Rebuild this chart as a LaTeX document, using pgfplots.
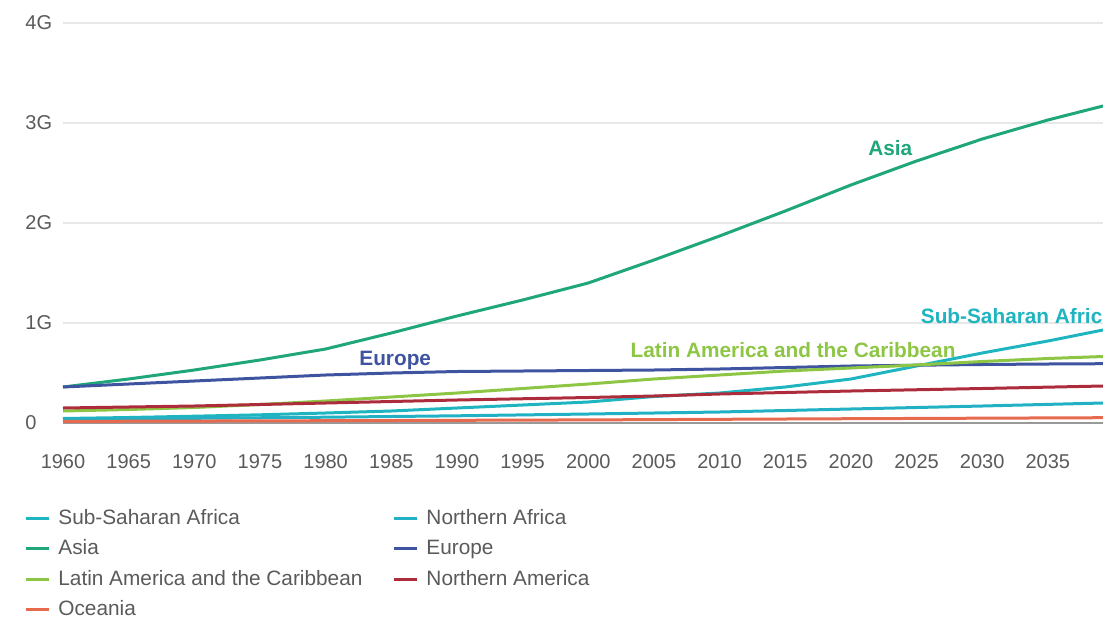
\documentclass[border=0pt]{standalone}
\usepackage{fontspec}
\setmainfont{Liberation Sans}
\usepackage{pgfplots}
\pgfplotsset{compat=1.18}
\definecolor{cAsia}{RGB}{31,166,122}
\definecolor{cEur}{RGB}{62,84,160}
\definecolor{cLat}{RGB}{141,198,68}
\definecolor{cNAm}{RGB}{172,44,60}
\definecolor{cSSA}{RGB}{30,180,192}
\definecolor{cNAf}{RGB}{34,176,196}
\definecolor{cOce}{RGB}{232,106,78}
\definecolor{tgray}{RGB}{90,90,90}
\definecolor{ggray}{RGB}{232,232,232}
\begin{document}
\begin{tikzpicture}
\useasboundingbox (0,0) rectangle (551.5pt,309pt);
\clip (0,0) rectangle (551.5pt,309pt);
\begin{axis}[
  at={(31.5pt,97.5pt)}, anchor=south west,
  scale only axis, width=520pt, height=200pt,
  xmin=1960, xmax=2039.2, ymin=0, ymax=4,
  clip=false,
  axis line style={draw=none},
  major tick length=0pt,
  xtick={1960,1965,...,2035},
  xticklabels={1960,1965,1970,1975,1980,1985,1990,1995,2000,2005,2010,2015,2020,2025,2030,2035},
  ytick={1,2,3,4},
  yticklabels={1G,2G,3G,4G},
  extra y ticks={0},
  extra y tick labels={0},
  extra y tick style={grid style={draw=gray!80, line width=0.9pt}},
  ymajorgrids, grid style={draw=ggray, line width=0.8pt},
  tick label style={font=\fontsize{10}{12}\selectfont, text=tgray},
  yticklabel style={anchor=west, inner sep=0pt, xshift=-19pt},
  xticklabel style={anchor=north, inner sep=0pt, yshift=-15.4pt},
  legend columns=2,
  legend cell align=left,
  legend style={at={(-0.0375,-0.205)}, anchor=north west, draw=none, fill=none,
    inner sep=0pt, font=\fontsize{10.4}{12.5}\selectfont, text=tgray, row sep=2.2pt,
    /tikz/every even column/.append style={column sep=13pt}},
  legend image code/.code={\draw[line width=1.5pt] (0pt,0pt) -- (11.5pt,0pt); \path (13.5pt,0pt);},
  every axis plot/.append style={line width=1.5pt},
]
% Sub-Saharan Africa
\addplot[cSSA] coordinates {(1960,0.045) (1965,0.055) (1970,0.068) (1975,0.082) (1980,0.10) (1985,0.12) (1990,0.15) (1995,0.18) (2000,0.21) (2005,0.265) (2010,0.30) (2015,0.36) (2020,0.44) (2025,0.57) (2030,0.70) (2035,0.82) (2039.2,0.93)};
\addlegendentry{Sub-Saharan Africa}
% Northern Africa
\addplot[cNAf] coordinates {(1960,0.038) (1970,0.047) (1980,0.058) (1990,0.072) (2000,0.09) (2010,0.11) (2020,0.14) (2030,0.17) (2039.2,0.20)};
\addlegendentry{Northern Africa}
% Asia
\addplot[cAsia] coordinates {(1960,0.36) (1965,0.44) (1970,0.53) (1975,0.63) (1980,0.74) (1985,0.90) (1990,1.07) (1995,1.23) (2000,1.40) (2005,1.63) (2010,1.87) (2015,2.12) (2020,2.38) (2025,2.62) (2030,2.84) (2035,3.03) (2039.2,3.17)};
\addlegendentry{Asia}
% Europe
\addplot[cEur] coordinates {(1960,0.36) (1965,0.39) (1970,0.42) (1975,0.45) (1980,0.48) (1985,0.50) (1990,0.515) (1995,0.52) (2000,0.525) (2005,0.53) (2010,0.54) (2015,0.555) (2020,0.57) (2025,0.578) (2030,0.585) (2035,0.59) (2039.2,0.593)};
\addlegendentry{Europe}
% Latin America
\addplot[cLat] coordinates {(1960,0.12) (1965,0.135) (1970,0.155) (1975,0.185) (1980,0.22) (1985,0.26) (1990,0.30) (1995,0.345) (2000,0.39) (2005,0.44) (2010,0.48) (2015,0.52) (2020,0.55) (2025,0.58) (2030,0.615) (2035,0.645) (2039.2,0.665)};
\addlegendentry{Latin America and the Caribbean}
% Northern America
\addplot[cNAm] coordinates {(1960,0.15) (1970,0.17) (1980,0.20) (1990,0.23) (2000,0.255) (2005,0.27) (2010,0.29) (2020,0.32) (2030,0.345) (2039.2,0.37)};
\addlegendentry{Northern America}
% Oceania
\addplot[cOce] coordinates {(1960,0.016) (1980,0.023) (2000,0.031) (2020,0.043) (2039.2,0.053)};
\addlegendentry{Oceania}
\node[font=\fontsize{10.4}{12.5}\selectfont\bfseries, text=cAsia] at (axis cs:2023.0,2.75) {Asia};
\node[font=\fontsize{10.4}{12.5}\selectfont\bfseries, text=cEur] at (axis cs:1985.3,0.63) {Europe};
\node[font=\fontsize{10.4}{12.5}\selectfont\bfseries, text=cLat] at (axis cs:2015.6,0.73) {Latin America and the Caribbean};
\node[font=\fontsize{10.4}{12.5}\selectfont\bfseries, text=cSSA, anchor=west, inner sep=0pt] at (axis cs:2025.3,1.07) {Sub-Saharan Africa};
\end{axis}
\end{tikzpicture}
\end{document}
